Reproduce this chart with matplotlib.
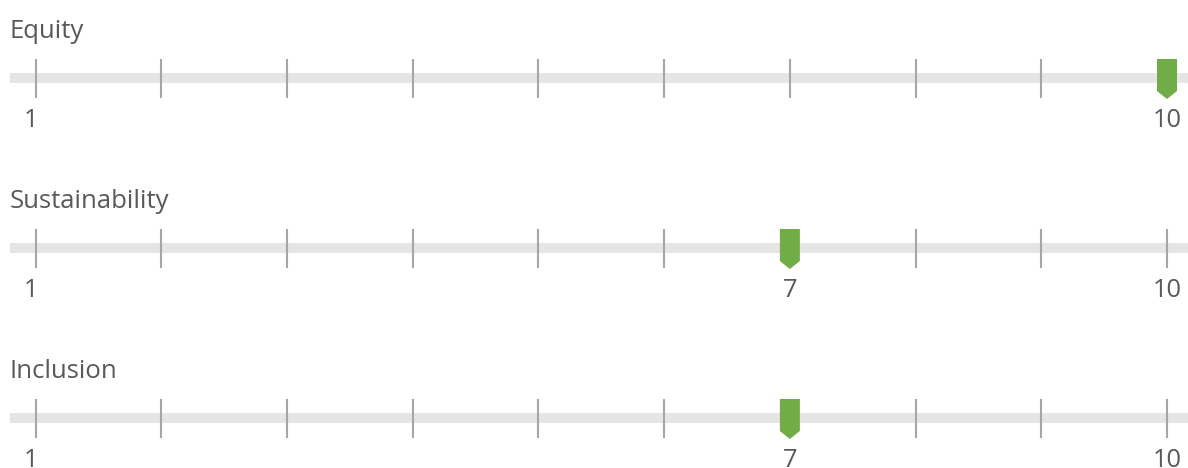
import numpy as np
import matplotlib
matplotlib.use("Agg")
import matplotlib.pyplot as plt
from matplotlib.patches import Polygon, Rectangle

# data
categories = ["Equity", "Sustainability", "Inclusion"]
scores = [10, 7, 7]
scale_min = 1
scale_max = 10

# styles
bar_color = "#e5e5e5"
tick_color = "#a6a6a6"
marker_color = "#70ad47"
text_color = "#595959"
font = "Open Sans"

W, H = 1188, 468
fig = plt.figure(figsize=(W / 100, H / 100), dpi=100)
ax = fig.add_axes([0, 0, 1, 1])

# x in score units, y in pixels from the top
px = (1167 - 35.6) / (scale_max - scale_min)  # pixels per score unit
x0 = scale_min - 35.6 / px
ax.set_xlim(x0, x0 + W / px)
ax.set_ylim(H, 0)
ax.axis("off")

row_gap = 170
for i, (name, v) in enumerate(zip(categories, scores)):
    yb = 78 + i * row_gap

    ax.text(x0 + 10 / px, yb - 40, name, fontsize=18.5, color=text_color,
            family=font, ha="left", va="baseline")

    # gray track
    ax.add_patch(Rectangle((x0 + 10 / px, yb - 5), (W - 10) / px, 10,
                           color=bar_color, lw=0, zorder=1))
    # tick marks
    ax.vlines(np.arange(scale_min, scale_max + 1), yb - 19, yb + 20,
              color=tick_color, lw=1.5, zorder=2)

    # marker
    hw = 10 / px
    pts = [(v - hw, yb - 19), (v + hw, yb - 19), (v + hw, yb + 13),
           (v, yb + 21), (v - hw, yb + 13)]
    ax.add_patch(Polygon(pts, closed=True, color=marker_color, lw=0, zorder=3))

    # scale labels
    ly = yb + 49
    ax.text(scale_min - 5 / px, ly, str(scale_min), fontsize=18.3, color=text_color,
            family=font, ha="center", va="baseline")
    ax.text(scale_max, ly, str(scale_max), fontsize=18.3, color=text_color,
            family=font, ha="center", va="baseline")
    if v not in (scale_min, scale_max):
        ax.text(v, ly, str(v), fontsize=18.3, color=text_color,
                family=font, ha="center", va="baseline")

fig.savefig("out.png", dpi=100)
